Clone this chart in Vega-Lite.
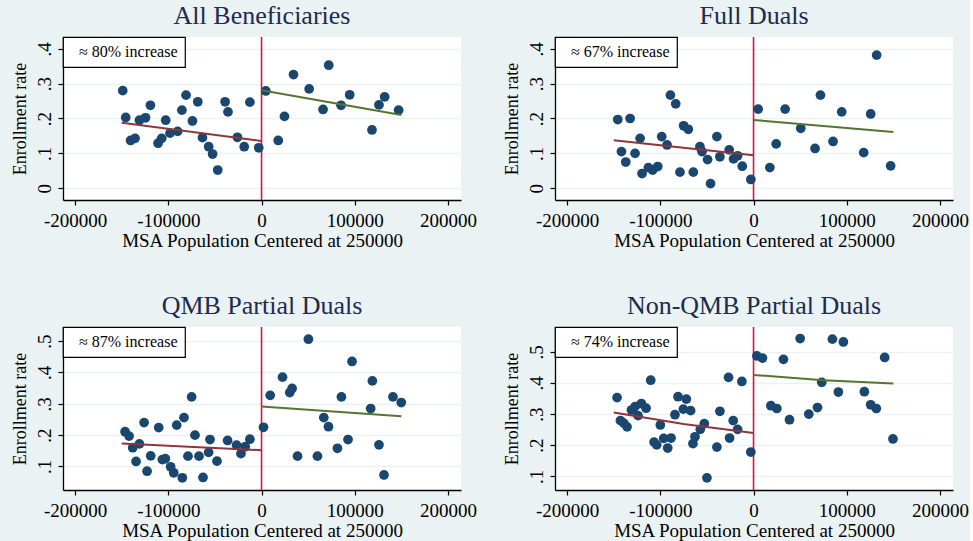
{
  "$schema": "https://vega.github.io/schema/vega-lite/v6.json",
  "autosize": {"type": "pad"},
  "padding": {"left": 11, "top": 3, "right": 1, "bottom": 1},
  "background": "#eaf2f3",
  "config": {
    "font": "Liberation Serif, Times New Roman, serif",
    "view": {"fill": "white", "stroke": null},
    "axis": {"labelFont": "Liberation Serif, Times New Roman, serif", "titleFont": "Liberation Serif, Times New Roman, serif", "labelFontSize": 19, "titleFontSize": 19, "labelColor": "black", "titleColor": "black", "domainColor": "black", "tickColor": "black", "labelFontWeight": "normal", "titleFontWeight": "normal", "domainWidth": 1.3, "tickWidth": 1.2, "tickSize": 5, "gridColor": "#eaf2f3", "gridWidth": 1.5},
    "axisX": {"grid": false, "labelPadding": 6, "titlePadding": 1},
    "axisY": {"grid": true, "labelAngle": -90, "labelPadding": 4, "titlePadding": 6, "titleFontSize": 18},
    "title": {"font": "Liberation Serif, Times New Roman, serif", "fontSize": 26, "fontWeight": "normal", "color": "#1c2b4f", "offset": 7, "anchor": "middle"},
    "legend": {"orient": "top-left", "offset": 0, "strokeColor": "black", "fillColor": "white", "padding": 7, "labelFont": "Liberation Serif, Times New Roman, serif", "labelFontSize": 16, "labelColor": "black", "symbolSize": 0, "symbolOpacity": 0, "symbolStrokeWidth": 0, "labelOffset": -7, "strokeWidth": 1.2}
  },
  "datasets": {
    "pts": [
      {"p":"all","x":-148900,"y":0.280},{"p":"all","x":-145700,"y":0.203},{"p":"all","x":-140500,"y":0.137},{"p":"all","x":-135700,"y":0.143},{"p":"all","x":-131000,"y":0.195},{"p":"all","x":-124500,"y":0.202},{"p":"all","x":-119200,"y":0.238},{"p":"all","x":-111000,"y":0.129},{"p":"all","x":-107100,"y":0.143},{"p":"all","x":-102800,"y":0.195},{"p":"all","x":-98200,"y":0.158},{"p":"all","x":-90000,"y":0.163},{"p":"all","x":-85400,"y":0.224},{"p":"all","x":-81000,"y":0.267},{"p":"all","x":-74100,"y":0.193},{"p":"all","x":-68400,"y":0.248},{"p":"all","x":-63400,"y":0.145},{"p":"all","x":-56700,"y":0.119},{"p":"all","x":-52500,"y":0.098},{"p":"all","x":-47000,"y":0.052},{"p":"all","x":-39100,"y":0.248},{"p":"all","x":-36000,"y":0.219},{"p":"all","x":-25900,"y":0.146},{"p":"all","x":-18600,"y":0.119},{"p":"all","x":-12500,"y":0.247},{"p":"all","x":-3000,"y":0.116},
      {"p":"all","x":4600,"y":0.279},{"p":"all","x":17900,"y":0.137},{"p":"all","x":24600,"y":0.206},{"p":"all","x":34300,"y":0.326},{"p":"all","x":51100,"y":0.285},{"p":"all","x":66000,"y":0.226},{"p":"all","x":72100,"y":0.353},{"p":"all","x":85300,"y":0.238},{"p":"all","x":94600,"y":0.268},{"p":"all","x":118500,"y":0.167},{"p":"all","x":126000,"y":0.239},{"p":"all","x":132100,"y":0.262},{"p":"all","x":147100,"y":0.224},
      {"p":"full","x":-145700,"y":0.197},{"p":"full","x":-141700,"y":0.105},{"p":"full","x":-137100,"y":0.075},{"p":"full","x":-132400,"y":0.200},{"p":"full","x":-127100,"y":0.100},{"p":"full","x":-121700,"y":0.143},{"p":"full","x":-119600,"y":0.042},{"p":"full","x":-112800,"y":0.059},{"p":"full","x":-108200,"y":0.052},{"p":"full","x":-102800,"y":0.062},{"p":"full","x":-98500,"y":0.148},{"p":"full","x":-92800,"y":0.124},{"p":"full","x":-89200,"y":0.267},{"p":"full","x":-83500,"y":0.242},{"p":"full","x":-78900,"y":0.046},{"p":"full","x":-75000,"y":0.179},{"p":"full","x":-70000,"y":0.169},{"p":"full","x":-64600,"y":0.046},{"p":"full","x":-57500,"y":0.119},{"p":"full","x":-55300,"y":0.105},{"p":"full","x":-49300,"y":0.082},{"p":"full","x":-46100,"y":0.013},{"p":"full","x":-39300,"y":0.148},{"p":"full","x":-36100,"y":0.090},{"p":"full","x":-26100,"y":0.110},{"p":"full","x":-21400,"y":0.084},{"p":"full","x":-17100,"y":0.093},{"p":"full","x":-12100,"y":0.063},{"p":"full","x":-2900,"y":0.025},
      {"p":"full","x":5000,"y":0.227},{"p":"full","x":17500,"y":0.059},{"p":"full","x":24300,"y":0.127},{"p":"full","x":33900,"y":0.227},{"p":"full","x":50700,"y":0.172},{"p":"full","x":66000,"y":0.114},{"p":"full","x":71800,"y":0.267},{"p":"full","x":85300,"y":0.134},{"p":"full","x":94600,"y":0.219},{"p":"full","x":118200,"y":0.102},{"p":"full","x":125700,"y":0.213},{"p":"full","x":132100,"y":0.382},{"p":"full","x":147100,"y":0.064},
      {"p":"qmb","x":-146400,"y":0.211},{"p":"qmb","x":-142100,"y":0.197},{"p":"qmb","x":-138200,"y":0.160},{"p":"qmb","x":-131000,"y":0.172},{"p":"qmb","x":-134600,"y":0.116},{"p":"qmb","x":-126000,"y":0.240},{"p":"qmb","x":-122800,"y":0.085},{"p":"qmb","x":-118900,"y":0.134},{"p":"qmb","x":-110300,"y":0.224},{"p":"qmb","x":-106400,"y":0.122},{"p":"qmb","x":-103200,"y":0.125},{"p":"qmb","x":-97500,"y":0.099},{"p":"qmb","x":-94200,"y":0.080},{"p":"qmb","x":-91000,"y":0.232},{"p":"qmb","x":-85000,"y":0.064},{"p":"qmb","x":-83200,"y":0.256},{"p":"qmb","x":-78900,"y":0.133},{"p":"qmb","x":-75000,"y":0.322},{"p":"qmb","x":-71400,"y":0.200},{"p":"qmb","x":-67100,"y":0.133},{"p":"qmb","x":-62800,"y":0.065},{"p":"qmb","x":-56800,"y":0.145},{"p":"qmb","x":-55300,"y":0.186},{"p":"qmb","x":-47800,"y":0.117},{"p":"qmb","x":-36400,"y":0.183},{"p":"qmb","x":-26800,"y":0.168},{"p":"qmb","x":-22100,"y":0.141},{"p":"qmb","x":-17500,"y":0.163},{"p":"qmb","x":-12500,"y":0.187},
      {"p":"qmb","x":2100,"y":0.225},{"p":"qmb","x":9300,"y":0.327},{"p":"qmb","x":22500,"y":0.385},{"p":"qmb","x":30300,"y":0.336},{"p":"qmb","x":32800,"y":0.349},{"p":"qmb","x":38600,"y":0.133},{"p":"qmb","x":50300,"y":0.506},{"p":"qmb","x":60000,"y":0.133},{"p":"qmb","x":66800,"y":0.256},{"p":"qmb","x":71800,"y":0.227},{"p":"qmb","x":81400,"y":0.158},{"p":"qmb","x":85700,"y":0.322},{"p":"qmb","x":92800,"y":0.186},{"p":"qmb","x":97100,"y":0.435},{"p":"qmb","x":117100,"y":0.285},{"p":"qmb","x":118900,"y":0.373},{"p":"qmb","x":126000,"y":0.169},{"p":"qmb","x":131400,"y":0.073},{"p":"qmb","x":141000,"y":0.322},{"p":"qmb","x":149900,"y":0.304},
      {"p":"non","x":-146400,"y":0.353},{"p":"non","x":-142800,"y":0.279},{"p":"non","x":-139200,"y":0.271},{"p":"non","x":-135700,"y":0.259},{"p":"non","x":-131000,"y":0.313},{"p":"non","x":-127100,"y":0.324},{"p":"non","x":-123900,"y":0.295},{"p":"non","x":-120300,"y":0.334},{"p":"non","x":-115300,"y":0.319},{"p":"non","x":-110300,"y":0.409},{"p":"non","x":-106700,"y":0.210},{"p":"non","x":-103900,"y":0.201},{"p":"non","x":-100000,"y":0.265},{"p":"non","x":-96400,"y":0.222},{"p":"non","x":-92100,"y":0.191},{"p":"non","x":-88500,"y":0.223},{"p":"non","x":-84300,"y":0.298},{"p":"non","x":-81000,"y":0.356},{"p":"non","x":-75300,"y":0.316},{"p":"non","x":-72100,"y":0.348},{"p":"non","x":-67500,"y":0.311},{"p":"non","x":-65000,"y":0.205},{"p":"non","x":-62800,"y":0.227},{"p":"non","x":-57100,"y":0.251},{"p":"non","x":-52800,"y":0.269},{"p":"non","x":-50000,"y":0.095},{"p":"non","x":-39300,"y":0.194},{"p":"non","x":-36100,"y":0.309},{"p":"non","x":-26800,"y":0.418},{"p":"non","x":-25700,"y":0.223},{"p":"non","x":-21800,"y":0.279},{"p":"non","x":-17100,"y":0.251},{"p":"non","x":-12500,"y":0.405},{"p":"non","x":-2900,"y":0.178},
      {"p":"non","x":3600,"y":0.487},{"p":"non","x":9600,"y":0.480},{"p":"non","x":32100,"y":0.476},{"p":"non","x":18600,"y":0.327},{"p":"non","x":25000,"y":0.318},{"p":"non","x":38600,"y":0.282},{"p":"non","x":50000,"y":0.543},{"p":"non","x":59300,"y":0.300},{"p":"non","x":68600,"y":0.321},{"p":"non","x":73200,"y":0.402},{"p":"non","x":84600,"y":0.541},{"p":"non","x":91000,"y":0.371},{"p":"non","x":96400,"y":0.532},{"p":"non","x":118900,"y":0.372},{"p":"non","x":125700,"y":0.330},{"p":"non","x":131700,"y":0.318},{"p":"non","x":140700,"y":0.482},{"p":"non","x":149600,"y":0.220}
    ],
    "fits": [
      {"p":"all","side":"left","x":-150000,"y":0.188},{"p":"all","side":"left","x":0,"y":0.1355},{"p":"all","side":"right","x":0,"y":0.281},{"p":"all","side":"right","x":150000,"y":0.210},
      {"p":"full","side":"left","x":-150000,"y":0.1375},{"p":"full","side":"left","x":0,"y":0.0945},{"p":"full","side":"right","x":0,"y":0.196},{"p":"full","side":"right","x":150000,"y":0.161},
      {"p":"qmb","side":"left","x":-150000,"y":0.173},{"p":"qmb","side":"left","x":0,"y":0.152},{"p":"qmb","side":"right","x":0,"y":0.291},{"p":"qmb","side":"right","x":150000,"y":0.260},
      {"p":"non","side":"left","x":-150000,"y":0.305},{"p":"non","side":"left","x":-75000,"y":0.268},{"p":"non","side":"left","x":0,"y":0.239},{"p":"non","side":"right","x":0,"y":0.426},{"p":"non","side":"right","x":75000,"y":0.409},{"p":"non","side":"right","x":150000,"y":0.398}
    ]
  },
  "columns": 2,
  "spacing": {"row": 127, "column": 94},
  "bounds": "flush",
  "resolve": {"scale": {"color": "independent"}, "legend": {"color": "independent"}},
  "concat": [
    {
      "title": "All Beneficiaries",
      "width": 398, "height": 163,
      "layer": [
        {"data": {"values": [{}]}, "mark": {"type": "rule", "color": "#d7163d", "strokeWidth": 1.6}, "encoding": {"x": {"datum": 0, "type": "quantitative"}}},
        {"data": {"name": "pts"}, "transform": [{"filter": "datum.p == 'all'"}], "mark": {"type": "point", "filled": true, "size": 95, "opacity": 1},
         "encoding": {
           "x": {"field": "x", "type": "quantitative", "scale": {"domain": [-213000, 214000], "nice": false, "zero": false}, "axis": {"values": [-200000, -100000, 0, 100000, 200000], "labelExpr": "'' + datum.value", "title": "MSA Population Centered at 250000"}},
           "y": {"field": "y", "type": "quantitative", "scale": {"domain": [-0.034, 0.434], "nice": false, "zero": false}, "axis": {"values": [0, 0.1, 0.2, 0.3, 0.4], "labelExpr": "datum.value == 0 ? '0' : replace(format(datum.value, '.1f'), '0.', '.')", "title": "Enrollment rate"}},
           "color": {"datum": "≈ 80% increase", "type": "nominal", "scale": {"range": ["#1a476f"]}, "legend": {"title": null}}
         }},
        {"data": {"name": "fits"}, "transform": [{"filter": "datum.p == 'all'"}], "mark": {"type": "line", "strokeWidth": 2},
         "encoding": {"x": {"field": "x", "type": "quantitative"}, "y": {"field": "y", "type": "quantitative"}, "stroke": {"field": "side", "type": "nominal", "scale": {"domain": ["left", "right"], "range": ["#90353b", "#55752f"]}, "legend": null}}}
      ]
    },
    {
      "title": "Full Duals",
      "width": 398, "height": 163,
      "layer": [
        {"data": {"values": [{}]}, "mark": {"type": "rule", "color": "#d7163d", "strokeWidth": 1.6}, "encoding": {"x": {"datum": 0, "type": "quantitative"}}},
        {"data": {"name": "pts"}, "transform": [{"filter": "datum.p == 'full'"}], "mark": {"type": "point", "filled": true, "size": 95, "opacity": 1},
         "encoding": {
           "x": {"field": "x", "type": "quantitative", "scale": {"domain": [-213000, 214000], "nice": false, "zero": false}, "axis": {"values": [-200000, -100000, 0, 100000, 200000], "labelExpr": "'' + datum.value", "title": "MSA Population Centered at 250000"}},
           "y": {"field": "y", "type": "quantitative", "scale": {"domain": [-0.034, 0.434], "nice": false, "zero": false}, "axis": {"values": [0, 0.1, 0.2, 0.3, 0.4], "labelExpr": "datum.value == 0 ? '0' : replace(format(datum.value, '.1f'), '0.', '.')", "title": "Enrollment rate"}},
           "color": {"datum": "≈ 67% increase", "type": "nominal", "scale": {"range": ["#1a476f"]}, "legend": {"title": null}}
         }},
        {"data": {"name": "fits"}, "transform": [{"filter": "datum.p == 'full'"}], "mark": {"type": "line", "strokeWidth": 2},
         "encoding": {"x": {"field": "x", "type": "quantitative"}, "y": {"field": "y", "type": "quantitative"}, "stroke": {"field": "side", "type": "nominal", "scale": {"domain": ["left", "right"], "range": ["#90353b", "#55752f"]}, "legend": null}}}
      ]
    },
    {
      "title": "QMB Partial Duals",
      "width": 398, "height": 163,
      "layer": [
        {"data": {"values": [{}]}, "mark": {"type": "rule", "color": "#d7163d", "strokeWidth": 1.6}, "encoding": {"x": {"datum": 0, "type": "quantitative"}}},
        {"data": {"name": "pts"}, "transform": [{"filter": "datum.p == 'qmb'"}], "mark": {"type": "point", "filled": true, "size": 95, "opacity": 1},
         "encoding": {
           "x": {"field": "x", "type": "quantitative", "scale": {"domain": [-213000, 214000], "nice": false, "zero": false}, "axis": {"values": [-200000, -100000, 0, 100000, 200000], "labelExpr": "'' + datum.value", "title": "MSA Population Centered at 250000"}},
           "y": {"field": "y", "type": "quantitative", "scale": {"domain": [0.025, 0.545], "nice": false, "zero": false}, "axis": {"values": [0.1, 0.2, 0.3, 0.4, 0.5], "labelExpr": "datum.value == 0 ? '0' : replace(format(datum.value, '.1f'), '0.', '.')", "title": "Enrollment rate"}},
           "color": {"datum": "≈ 87% increase", "type": "nominal", "scale": {"range": ["#1a476f"]}, "legend": {"title": null}}
         }},
        {"data": {"name": "fits"}, "transform": [{"filter": "datum.p == 'qmb'"}], "mark": {"type": "line", "strokeWidth": 2},
         "encoding": {"x": {"field": "x", "type": "quantitative"}, "y": {"field": "y", "type": "quantitative"}, "stroke": {"field": "side", "type": "nominal", "scale": {"domain": ["left", "right"], "range": ["#90353b", "#55752f"]}, "legend": null}}}
      ]
    },
    {
      "title": "Non-QMB Partial Duals",
      "width": 398, "height": 163,
      "layer": [
        {"data": {"values": [{}]}, "mark": {"type": "rule", "color": "#d7163d", "strokeWidth": 1.6}, "encoding": {"x": {"datum": 0, "type": "quantitative"}}},
        {"data": {"name": "pts"}, "transform": [{"filter": "datum.p == 'non'"}], "mark": {"type": "point", "filled": true, "size": 95, "opacity": 1},
         "encoding": {
           "x": {"field": "x", "type": "quantitative", "scale": {"domain": [-213000, 214000], "nice": false, "zero": false}, "axis": {"values": [-200000, -100000, 0, 100000, 200000], "labelExpr": "'' + datum.value", "title": "MSA Population Centered at 250000"}},
           "y": {"field": "y", "type": "quantitative", "scale": {"domain": [0.056, 0.58], "nice": false, "zero": false}, "axis": {"values": [0.1, 0.2, 0.3, 0.4, 0.5], "labelExpr": "datum.value == 0 ? '0' : replace(format(datum.value, '.1f'), '0.', '.')", "title": "Enrollment rate"}},
           "color": {"datum": "≈ 74% increase", "type": "nominal", "scale": {"range": ["#1a476f"]}, "legend": {"title": null}}
         }},
        {"data": {"name": "fits"}, "transform": [{"filter": "datum.p == 'non'"}], "mark": {"type": "line", "strokeWidth": 2},
         "encoding": {"x": {"field": "x", "type": "quantitative"}, "y": {"field": "y", "type": "quantitative"}, "stroke": {"field": "side", "type": "nominal", "scale": {"domain": ["left", "right"], "range": ["#90353b", "#55752f"]}, "legend": null}}}
      ]
    }
  ]
}
